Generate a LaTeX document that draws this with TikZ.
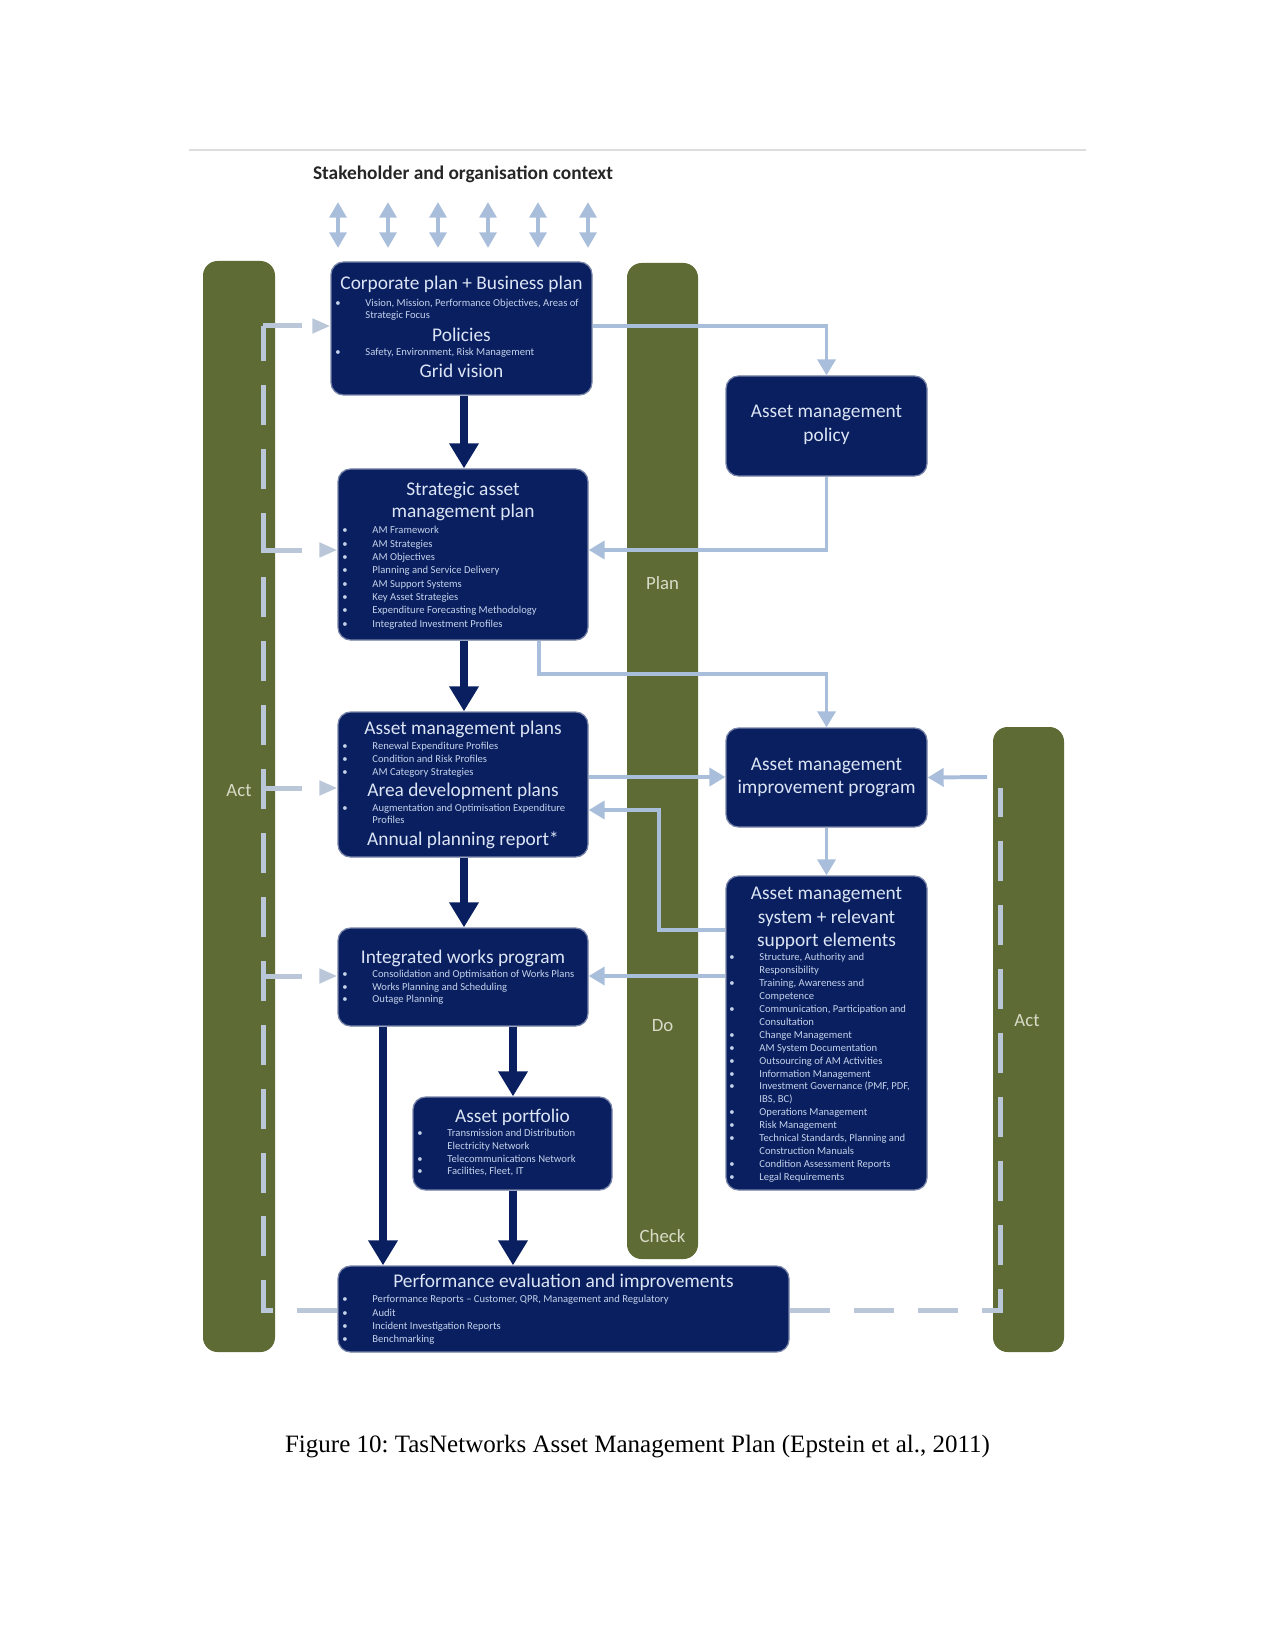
\documentclass[tikz,border=0pt]{standalone}
\usepackage{fontspec}
\setmainfont{Carlito}
\newfontfamily\capfont{Liberation Serif}
\usetikzlibrary{arrows.meta}
\frenchspacing
\definecolor{navy}{HTML}{0A1F60}
\definecolor{olive}{HTML}{5F6B34}
\definecolor{lconnc}{HTML}{A9BEDA}
\definecolor{dashc}{HTML}{B9C7D8}
\definecolor{titc}{HTML}{DCE5F5}
\definecolor{smallc}{HTML}{C4D2EA}
\definecolor{barc}{HTML}{D8DBC8}
\definecolor{rulec}{HTML}{DDDDDD}
\newcommand\bi[1]{\makebox[14.4pt][l]{\textbullet}#1}
\newcommand\bc[1]{\hspace*{14.4pt}#1}
\begin{document}
\begin{tikzpicture}[x=0.48pt,y=-0.48pt,
  navybox/.style={draw=navy!55!white, line width=0.6pt, fill=navy, rounded corners=6pt, inner sep=0pt},
  bar/.style={fill=olive, draw=none, rounded corners=7pt, inner sep=0pt},
  tit/.style={text=titc, font=\fontsize{9.3}{11}\selectfont, align=center, inner sep=0pt},
  sml/.style={text=smallc, font=\fontsize{5.1}{6.2}\selectfont, align=left, inner sep=0pt, anchor=north west},
  barlbl/.style={text=barc, font=\fontsize{9}{11}\selectfont, inner sep=0pt},
  lconn/.style={draw=lconnc, line width=1.9pt, -{Triangle[width=8.6pt,length=7.7pt]}},
  navyarr/.style={draw=navy, line width=3.8pt, -{Triangle[width=13.5pt,length=12pt]}},
  dblarr/.style={draw=lconnc, line width=1.9pt, {Triangle[width=8pt,length=7.5pt]}-{Triangle[width=8pt,length=7.5pt]}},
  actdash/.style={draw=dashc, line width=2.4pt, dash pattern=on 19.2pt off 11.5pt},
  stub/.style={draw=dashc, line width=2.4pt, dash pattern=on 18.7pt off 50pt, -{Triangle[width=6.7pt,length=8.6pt,fill=lconnc]}}
]
\useasboundingbox (0,0) rectangle (1275,1650);

% top rule and heading
\coordinate (ruleL) at (189,150);
\coordinate (ruleR) at (1086,150);
\draw[rulec, line width=1pt] (ruleL) -- (ruleR);
\node[text=black!85, font=\bfseries\fontsize{9.3}{11}\selectfont, inner sep=0pt] (stake) at (463,174) {Stakeholder and organisation context};

\foreach \x [count=\i] in {338,388,438,488,538,588} {
  \coordinate (da\i t) at (\x,202);
  \coordinate (da\i b) at (\x,248);
  \draw[dblarr] (da\i t) -- (da\i b);
}

% bars
\node[bar, minimum width=34.56pt, minimum height=523.68pt] (actL) at (239,806.5) {};
\node[bar, minimum width=34.08pt, minimum height=478.08pt] (pdc) at (662.5,761) {};
\node[bar, minimum width=34.08pt, minimum height=300pt] (actR) at (1028.5,1039.5) {};
\node[barlbl] (actLl) at (239,791) {Act};
\node[barlbl] (planl) at (662.5,583) {Plan};
\node[barlbl] (dol) at (662.5,1026) {Do};
\node[barlbl] (checkl) at (662.5,1236) {Check};
\node[barlbl] (actRl) at (1027,1021) {Act};

% boxes
\node[navybox, minimum width=125.28pt, minimum height=63.84pt] (corp) at (461.5,328.5) {};
\node[navybox, minimum width=96.48pt, minimum height=48pt] (pol) at (826.5,426) {};
\node[navybox, minimum width=120pt, minimum height=82.08pt] (strat) at (463,554.5) {};
\node[navybox, minimum width=120pt, minimum height=69.6pt] (amp) at (463,784.5) {};
\node[navybox, minimum width=96.48pt, minimum height=47.52pt] (imp) at (826.5,777.5) {};
\node[navybox, minimum width=96.48pt, minimum height=150.72pt] (sys) at (826.5,1033) {};
\node[navybox, minimum width=120pt, minimum height=47.04pt] (iwp) at (463,977) {};
\node[navybox, minimum width=95.52pt, minimum height=44.64pt] (port) at (512.5,1143.5) {};
\node[navybox, minimum width=216.48pt, minimum height=41.28pt] (perf) at (563.5,1309) {};

% corporate
\node[tit] (corpT) at (461.5,284) {Corporate plan + Business plan};
\node[sml, font=\fontsize{5.1}{5.8}\selectfont] (corpB1) at (335,299) {\bi{Vision, Mission, Performance Objectives, Areas of}\\\bc{Strategic Focus}};
\node[tit] (corpP) at (461.5,335) {Policies};
\node[sml] (corpB2) at (335,348) {\bi{Safety, Environment, Risk Management}};
\node[tit] (corpG) at (461.5,371) {Grid vision};

% policy
\node[tit, font=\fontsize{9.3}{11.5}\selectfont] (polT) at (826.5,425) {Asset management\\policy};

% strategic
\node[tit] (stratT) at (463,501.5) {Strategic asset\\management plan};
\node[sml, font=\fontsize{5.1}{6.4}\selectfont] (stratB) at (342,526) {\bi{AM Framework}\\\bi{AM Strategies}\\\bi{AM Objectives}\\\bi{Planning and Service Delivery}\\\bi{AM Support Systems}\\\bi{Key Asset Strategies}\\\bi{Expenditure Forecasting Methodology}\\\bi{Integrated Investment Profiles}};

% asset management plans
\node[tit] (ampT1) at (463,729) {Asset management plans};
\node[sml, font=\fontsize{5.1}{6.05}\selectfont] (ampB1) at (342,742) {\bi{Renewal Expenditure Profiles}\\\bi{Condition and Risk Profiles}\\\bi{AM Category Strategies}};
\node[tit] (ampT2) at (463,791) {Area development plans};
\node[sml, font=\fontsize{5.1}{5.8}\selectfont] (ampB2) at (342,804) {\bi{Augmentation and Optimisation Expenditure}\\\bc{Profiles}};
\node[tit] (ampT3) at (463,840) {Annual planning report*};

% improvement program
\node[tit] (impT) at (826.5,777.5) {Asset management\\improvement program};

% system
\node[tit, font=\fontsize{9.3}{11.3}\selectfont] (sysT) at (826.5,918.5) {Asset management\\system + relevant\\support elements};
\node[sml] (sysB) at (729,953) {\bi{Structure, Authority and}\\\bc{Responsibility}\\\bi{Training, Awareness and}\\\bc{Competence}\\\bi{Communication, Participation and}\\\bc{Consultation}\\\bi{Change Management}\\\bi{AM System Documentation}\\\bi{Outsourcing of AM Activities}\\\bi{Information Management}\\\bi{Investment Governance (PMF, PDF,}\\\bc{IBS, BC)}\\\bi{Operations Management}\\\bi{Risk Management}\\\bi{Technical Standards, Planning and}\\\bc{Construction Manuals}\\\bi{Condition Assessment Reports}\\\bi{Legal Requirements}};

% integrated works program
\node[tit] (iwpT) at (463,958) {Integrated works program};
\node[sml, font=\fontsize{5.1}{6}\selectfont] (iwpB) at (342,970) {\bi{Consolidation and Optimisation of Works Plans}\\\bi{Works Planning and Scheduling}\\\bi{Outage Planning}};

% asset portfolio
\node[tit] (portT) at (512.5,1117) {Asset portfolio};
\node[sml, font=\fontsize{5.1}{6.1}\selectfont] (portB) at (417,1129) {\bi{Transmission and Distribution}\\\bc{Electricity Network}\\\bi{Telecommunications Network}\\\bi{Facilities, Fleet, IT}};

% performance
\node[tit] (perfT) at (563.5,1282) {Performance evaluation and improvements};
\node[sml, font=\fontsize{5.1}{6.4}\selectfont] (perfB) at (342,1295) {\bi{Performance Reports -- Customer, QPR, Management and Regulatory}\\\bi{Audit}\\\bi{Incident Investigation Reports}\\\bi{Benchmarking}};

% light connectors
\draw[lconn] (corp.east |- 0,326) -| (pol.north);
\draw[lconn] (pol.south) |- (strat.east |- 0,550);
\coordinate (sbk) at (539,674);
\draw[lconn] (strat.south -| 539,0) -- (sbk) -| (imp.north);
\draw[lconn] (amp.east |- 0,777) -- (imp.west |- 0,777);
\draw[lconn] (imp.south) -- (sys.north);
\coordinate (sk1) at (659,930);
\coordinate (sk2) at (659,810);
\draw[lconn] (sys.west |- 0,930) -- (sk1) -- (sk2) -- (amp.east |- 0,810);
\draw[lconn] (sys.west |- 0,976) -- (iwp.east |- 0,976);
\coordinate (rA) at (987,777);
\draw[lconn] (rA) -- (imp.east);

% act dashed loops
\coordinate (lCorner) at (263,1310);
\coordinate (lTop) at (263,326);
\draw[actdash] (perf.west |- 0,1310) -- (lCorner) -- (lTop);
\coordinate (lS1) at (263,326);
\coordinate (lS2) at (263,550);
\coordinate (lS3) at (263,788);
\coordinate (lS4) at (263,976);
\draw[stub] (lS1) -- (corp.west |- lS1);
\draw[stub] (lS2) -- (strat.west |- lS2);
\draw[stub] (lS3) -- (amp.west |- lS3);
\draw[stub] (lS4) -- (iwp.west |- lS4);
\coordinate (rCorner) at (1000,1310);
\coordinate (rTop) at (1000,788);
\draw[actdash] (perf.east |- 0,1310) -- (rCorner) -- (rTop);

% navy arrows
\draw[navyarr] (corp.south -| 464,0) -- (strat.north -| 464,0);
\draw[navyarr] (strat.south -| 464,0) -- (amp.north -| 464,0);
\draw[navyarr] (amp.south -| 464,0) -- (iwp.north -| 464,0);
\draw[navyarr] (iwp.south -| 513,0) -- (port.north -| 513,0);
\draw[navyarr] (port.south -| 513,0) -- (perf.north -| 513,0);
\draw[navyarr] (iwp.south -| 383,0) -- (perf.north -| 383,0);

% caption
\node[font=\capfont\fontsize{12}{14}\selectfont, text=black, inner sep=0pt] (cap) at (637.5,1447) {Figure 10: TasNetworks Asset Management Plan (Epstein et al., 2011)};
\end{tikzpicture}
\end{document}
